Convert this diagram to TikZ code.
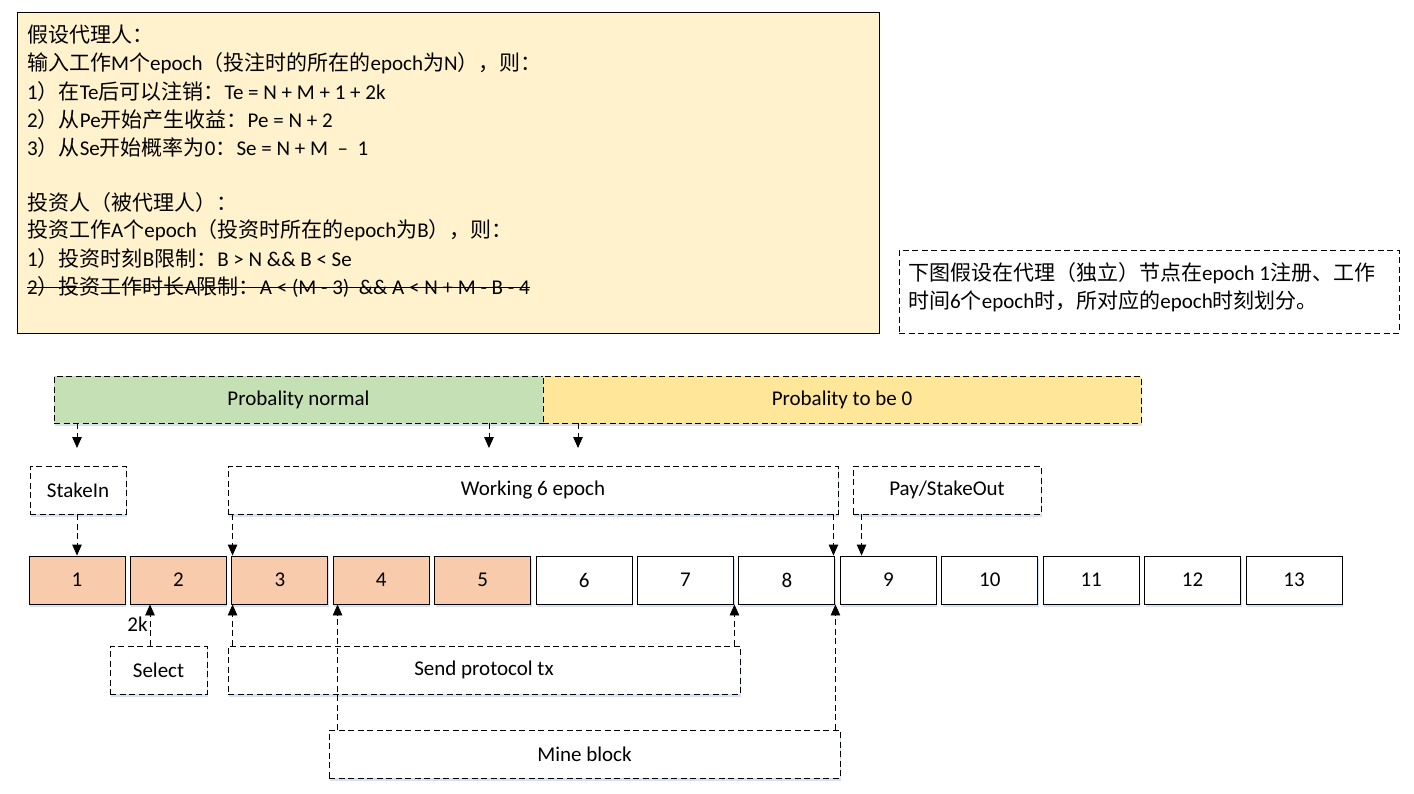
\documentclass[tikz,border=0pt]{standalone}
\usepackage{fontspec}
\setmainfont{Carlito}
\newfontfamily\cjk{Noto Sans CJK SC}
\usetikzlibrary{arrows.meta,shadows,calc}
\definecolor{noteyellow}{HTML}{FFF2CC}
\definecolor{pgreen}{HTML}{C5E0B4}
\definecolor{pyellow}{HTML}{FFE699}
\definecolor{salmon}{HTML}{F8CBAD}
\definecolor{shadowc}{RGB}{200,212,232}
\tikzset{
  shad/.style={drop shadow={shadow xshift=1pt,shadow yshift=-3pt,fill=shadowc,opacity=0.7}},
  dbox/.style={draw=black,line width=0.9pt,dash pattern=on 6pt off 3.5pt,fill=white,inner sep=0pt,shad},
  ebox/.style={draw=black,line width=0.9pt,fill=white,inner sep=0pt,minimum width=96pt,minimum height=48pt,shad},
  hot/.style={ebox,fill=salmon},
  arr/.style={draw=black,line width=0.9pt,dash pattern=on 6pt off 3.5pt,-{Triangle[length=11pt,width=9.5pt]}},
  line/.style={anchor=west,inner sep=0pt},
}
\begin{document}
\begin{tikzpicture}[x=1pt,y=-1pt,font=\fontsize{21}{28}\selectfont]
\useasboundingbox (0,0) rectangle (1414,793);
% note box
\node[draw=black,line width=0.9pt,fill=noteyellow,minimum width=862pt,minimum height=321pt,inner sep=0pt] (note) at (448,172.5) {};
\node[line] (l1) at (27,35) {{\cjk 假设代理人：}};
\node[line] (l2) at (27,63) {{\cjk 输入工作}M{\cjk 个}epoch{\cjk （投注时的所在的}epoch{\cjk 为}N{\cjk ），则：}};
\node[line] (l3) at (27,91.5) {1{\cjk ）在}Te{\cjk 后可以注销：}Te = N + M + 1 + 2k};
\node[line] (l4) at (27,119.5) {2{\cjk ）从}Pe{\cjk 开始产生收益：}Pe = N + 2};
\node[line] (l5) at (27,147.5) {3{\cjk ）从}Se{\cjk 开始概率为}0{\cjk ：}Se = N + M \ – \ 1};
\node[line] (l7) at (27,203) {{\cjk 投资人（被代理人）：}};
\node[line] (l8) at (27,230.5) {{\cjk 投资工作}A{\cjk 个}epoch{\cjk （投资时所在的}epoch{\cjk 为}B{\cjk ），则：}};
\node[line] (l9) at (27,258.5) {1{\cjk ）投资时刻}B{\cjk 限制：}B > N \&\& B < Se};
\node[line] (l10) at (27,287) {2{\cjk ）投资工作时长}A{\cjk 限制：}A < (M - 3) \ \&\& A < N + M - B - 4};
\draw[line width=0.9pt] (l10.west) -- (l10.east);
% right note
\node[draw=black,line width=0.9pt,dash pattern=on 6pt off 3.5pt,minimum width=500pt,minimum height=83pt,inner sep=0pt] (rnote) at (1149,291.5) {};
\node[line] (r1) at (908,273) {{\cjk 下图假设在代理（独立）节点在}epoch 1{\cjk 注册、工作}};
\node[line] (r2) at (908,301) {{\cjk 时间}6{\cjk 个}epoch{\cjk 时，所对应的}epoch{\cjk 时刻划分。}};
% probability bars
\node[dbox,fill=pgreen,minimum width=489pt,minimum height=47pt] (pn) at (298.5,399.5) {Probality normal};
\node[dbox,fill=pyellow,minimum width=598pt,minimum height=47pt] (pz) at (842,399.5) {Probality to be 0};
% phase boxes
\node[dbox,minimum width=96pt,minimum height=48pt] (stake) at (78,490) {StakeIn};
\node[dbox,minimum width=610pt,minimum height=48pt] (work) at (533,490) {Working 6 epoch};
\node[dbox,minimum width=188pt,minimum height=48pt] (pay) at (947,490) {Pay/StakeOut};
% epochs
\foreach \i in {1,...,5} {
  \node[hot] (e\i) at ({77+(\i-1)*101.42},580) {\i};
}
\foreach \i in {6,...,13} {
  \node[ebox] (e\i) at ({77+(\i-1)*101.42},580) {\i};
}
% bottom boxes
\node[dbox,minimum width=97pt,minimum height=48pt] (sel) at (158.5,670) {Select};
\node[dbox,minimum width=512pt,minimum height=48pt] (send) at (484,670) {Send protocol tx};
\node[dbox,minimum width=511pt,minimum height=48pt] (mine) at (584.5,754) {Mine block};
% free ends under the bars
\coordinate (c1) at (77,448);
\coordinate (c2) at (489,448);
\coordinate (c3) at (578,448);
\draw[arr] (pn.south -| c1) -- (c1);
\draw[arr] (pn.south -| c2) -- (c2);
\draw[arr] (pz.south -| c3) -- (c3);
% down arrows
\draw[arr] ([xshift=-1pt]stake.south) -- ([xshift=-1pt]stake.south |- e1.north);
\draw[arr] ([xshift=5pt]work.south west) -- ([xshift=5pt]work.south west |- e3.north);
\draw[arr] ([xshift=-5pt]work.south east) -- ([xshift=-5pt]work.south east |- e8.north);
\draw[arr] ([xshift=9pt]pay.south west) -- ([xshift=9pt]pay.south west |- e9.north);
% up arrows
\draw[arr] ([xshift=-8.5pt]sel.north) -- ([xshift=-8.5pt]sel.north |- e2.south) node[midway,left,inner sep=2pt,yshift=1pt] (k) {2k};
\draw[arr] ([xshift=5pt]send.north west) -- ([xshift=5pt]send.north west |- e3.south);
\draw[arr] ([xshift=-6pt]send.north east) -- ([xshift=-6pt]send.north east |- e7.south);
\draw[arr] ([xshift=9pt]mine.north west) -- ([xshift=9pt]mine.north west |- e4.south);
\draw[arr] ([xshift=-5pt]mine.north east) -- ([xshift=-5pt]mine.north east |- e8.south);
\end{tikzpicture}
\end{document}
